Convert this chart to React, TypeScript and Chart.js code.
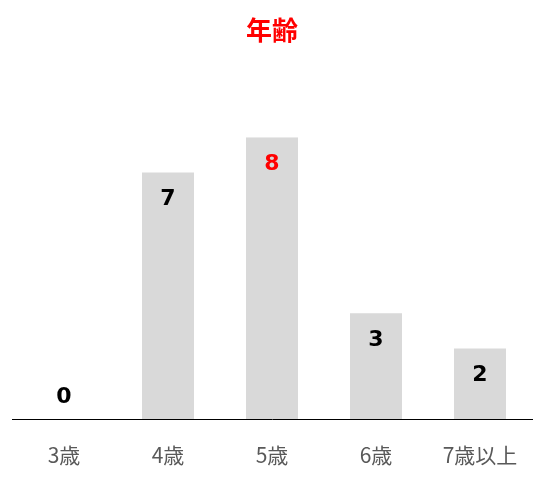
import { useEffect, useRef } from 'react';
import { Chart, registerables } from 'chart.js';

Chart.register(...registerables);

const categories = ['3歳', '4歳', '5歳', '6歳', '7歳以上'];
const counts = [0, 7, 8, 3, 2];
const highlightIndex = 2;

const FONT = '"Noto Sans CJK JP", "Noto Sans", sans-serif';

// draws value labels inside the top of each bar
const valueLabels = {
  id: 'valueLabels',
  afterDatasetsDraw(chart: any) {
    const { ctx } = chart;
    const meta = chart.getDatasetMeta(0);
    ctx.save();
    ctx.font = 'bold 22px "DejaVu Sans", sans-serif';
    ctx.textAlign = 'center';
    ctx.textBaseline = 'middle';
    meta.data.forEach((bar: any, i: number) => {
      const v = counts[i];
      const y = v === 0 ? bar.base - 22 : bar.y + 27;
      ctx.fillStyle = i === highlightIndex ? '#ff0000' : '#000000';
      ctx.fillText(String(v), bar.x, y);
    });
    ctx.restore();
  },
};

export default function App() {
  const canvasRef = useRef<HTMLCanvasElement>(null);
  const chartRef = useRef<any>(null);

  useEffect(() => {
    if (!canvasRef.current) return;
    if (chartRef.current) chartRef.current.destroy();

    chartRef.current = new Chart(canvasRef.current, {
      type: 'bar',
      data: {
        labels: categories,
        datasets: [
          {
            data: counts,
            backgroundColor: '#d9d9d9',
            barPercentage: 0.5,
            categoryPercentage: 1,
          },
        ],
      },
      options: {
        responsive: true,
        maintainAspectRatio: false,
        animation: false,
        layout: {
          padding: { left: 12, right: 13, top: 0, bottom: 0 },
        },
        plugins: {
          legend: { display: false },
          tooltip: { enabled: false },
          title: {
            display: true,
            text: '年齢',
            color: '#ff0000',
            font: { family: FONT, size: 26, weight: 'bold' },
            padding: { top: 15, bottom: 91 },
          },
        },
        scales: {
          y: {
            display: false,
            min: 0,
            max: 8,
          },
          x: {
            grid: { display: false, drawTicks: false },
            border: { display: true, color: '#000000', width: 1 },
            ticks: {
              color: '#595959',
              padding: 23,
              font: { family: FONT, size: 21 },
            },
            afterFit: (scale: any) => {
              scale.height = 61;
            },
          },
        },
      },
      plugins: [valueLabels],
    });

    return () => {
      if (chartRef.current) {
        chartRef.current.destroy();
        chartRef.current = null;
      }
    };
  }, []);

  return (
    <div style={{ position: 'fixed', left: 0, top: 0, width: 545, height: 480, background: '#ffffff' }}>
      <canvas ref={canvasRef}></canvas>
    </div>
  );
}
